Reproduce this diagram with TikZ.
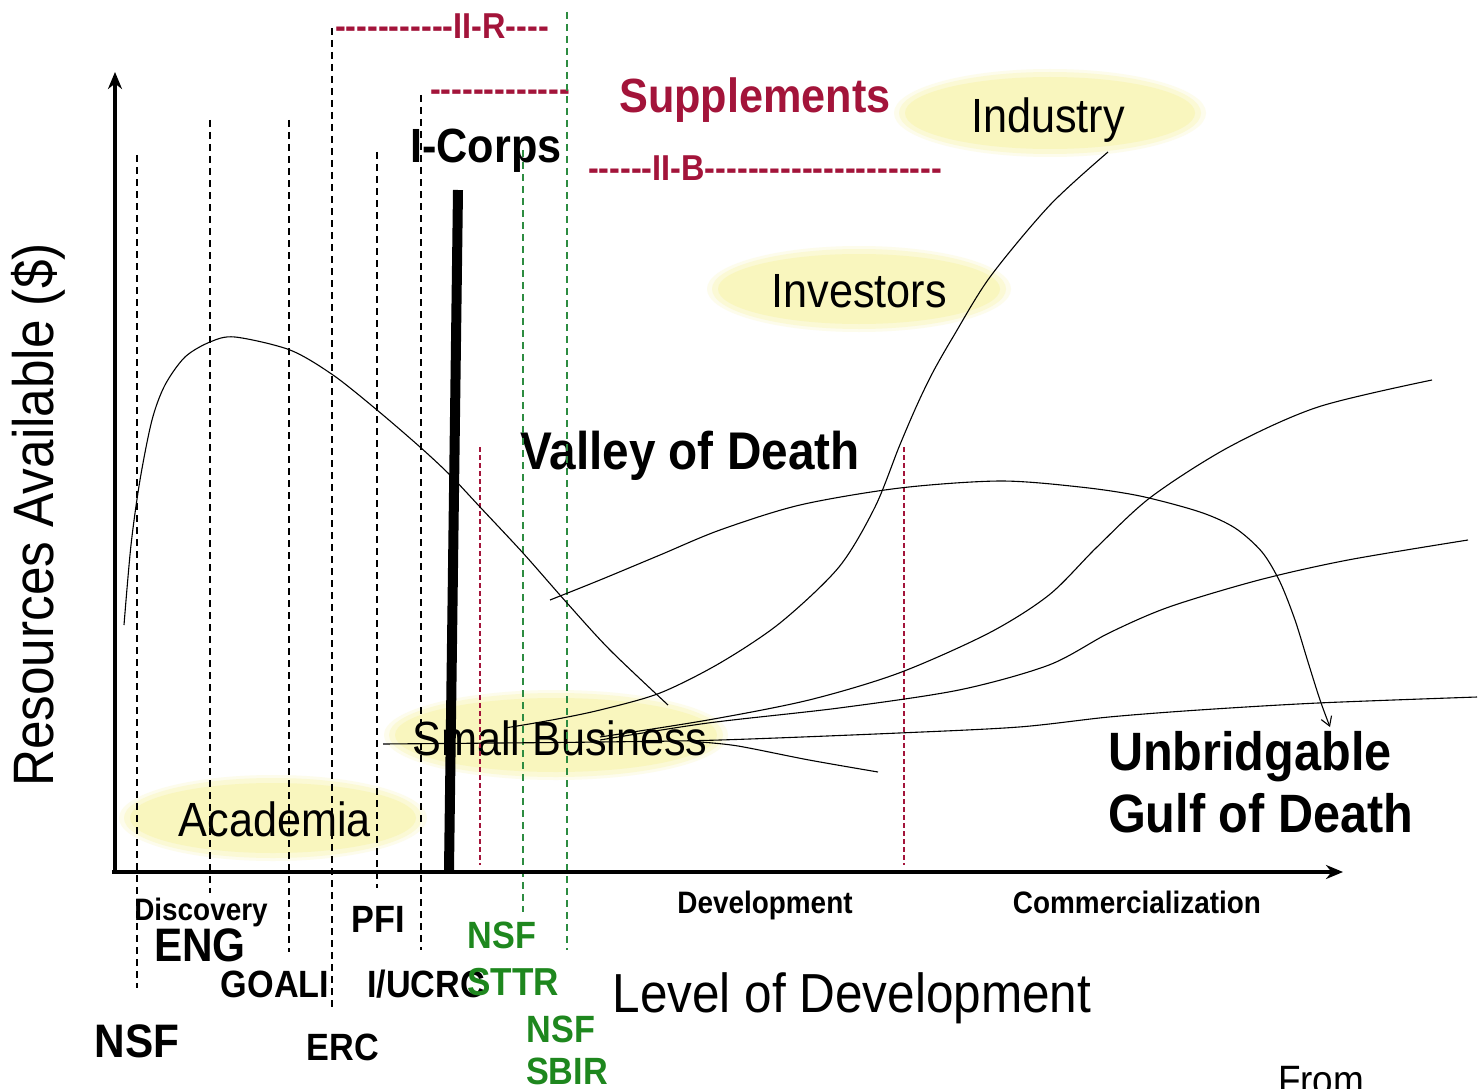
\documentclass[tikz,border=0pt]{standalone}
\usepackage{fontspec}
\setmainfont[FakeStretch=0.9]{Liberation Sans}
\usetikzlibrary{arrows.meta}
\definecolor{crimson}{RGB}{163,20,58}
\definecolor{fundgreen}{RGB}{30,135,30}
\definecolor{guidegreen}{RGB}{45,140,65}
\definecolor{glow}{RGB}{249,246,190}
\newcommand\fsz[1]{\fontsize{#1}{#1}\selectfont}
% a run of separate hyphens (no dash ligatures)
\newcommand\hyphens[1]{\foreach\k in {1,...,#1}{-}}

\begin{document}
\begin{tikzpicture}[x=1pt,y=-1pt,
  every node/.style={inner sep=0pt, outer sep=0pt},
  lbl/.style={anchor=base, font=\fsz{48}},
  bold/.style={anchor=base, font=\fsz{#1}\bfseries},
  guide/.style={line width=1.3pt, dash pattern=on 7pt off 5pt},
  greenguide/.style={guide, guidegreen, line width=1.1pt},
  redguide/.style={line width=1.1pt, crimson, dash pattern=on 5pt off 3pt},
  curve/.style={line width=1.1pt, black},
  axis/.style={line width=4pt, -{Stealth[length=17pt,width=14pt]}},
]
\fill[white] (0,0) rectangle (1478,1089);
\useasboundingbox (0,0) rectangle (1478,1089);

% soft yellow clouds behind the sector labels
\foreach \cx/\cy/\rx/\ry in {1050/113/150/40, 859/289/146/39, 556/735/166/41, 273/818/148/39}{
  \fill[glow!30] (\cx,\cy) ellipse [x radius=\rx pt+6pt, y radius=\ry pt+4pt];
  \fill[glow!65] (\cx,\cy) ellipse [x radius=\rx pt+1pt, y radius=\ry pt+1pt];
  \fill[glow] (\cx,\cy) ellipse [x radius=\rx pt-5pt, y radius=\ry pt-4pt];
}

% sector labels
\node[lbl] (industry) at (1048,133) {Industry};
\node[lbl] (investors) at (859,307) {Investors};
\node[lbl] (smallbiz) at (560,755) {Small Business};
\node[lbl] (academia) at (275,836) {Academia};

% headings
\node[bold=48, crimson] (supp) at (755,113) {Supplements};
\node[bold=36, crimson, anchor=base west] (iir) at (335,39) {\hyphens{11}II-R\hyphens{4}};
\node[bold=36, crimson, anchor=base west] (suppbar) at (430,102) {\hyphens{13}};
\node[bold=36, crimson, anchor=base west] (iib) at (588,180) {\hyphens{6}II-B\hyphens{22}};
\node[bold=48] (icorps) at (486,162) {I-Corps};
\node[bold=53] (valley) at (690,469) {Valley of Death};
\node[bold=54, anchor=base west] (unbr) at (1108,770) {Unbridgable};
\node[bold=54, anchor=base west] (gulf) at (1108,832) {Gulf of Death};

% axis titles
\node[font=\fsz{57}, rotate=90] (ylab) at (38,515) {Resources Available (\$)};
\node[font=\fsz{55}, anchor=base] (xlab) at (852,1012) {Level of Development};

% stage and programme labels
\node[bold=31] (disc) at (201,920) {Discovery};
\node[bold=31] (devel) at (765,913) {Development};
\node[bold=31] (comm) at (1137,913) {Commercialization};
\node[bold=47] (eng) at (200,961) {ENG};
\node[bold=38] (goali) at (275,997) {GOALI};
\node[bold=38] (pfi) at (378,932) {PFI};
\node[bold=38] (iucrc) at (426,997) {I/UCRC};
\node[bold=47] (nsf) at (137,1057) {NSF};
\node[bold=38] (erc) at (343,1060) {ERC};
\node[bold=38, fundgreen] (nsfa) at (502,948) {NSF};
\node[bold=39, fundgreen] (sttr) at (513,995) {STTR};
\node[bold=38, fundgreen] (nsfb) at (561,1042) {NSF};
\node[bold=38, fundgreen] (sbir) at (567,1084) {SBIR};
\node[font=\fsz{41}, anchor=base west] (from) at (1278,1094) {From};

% programme boundaries
\foreach \gx/\gtop/\gbot in {137/155/988, 210/120/893, 289/120/952, 332/28/1010, 377/152/888, 421/95/950}{
  \draw[guide] (\gx,\gtop) -- (\gx,\gbot);
}
\draw[greenguide] (523,150) -- (523,912);
\draw[greenguide] (567,12) -- (567,950);
\draw[redguide] (480,447) -- (480,865);
\draw[redguide] (904,447) -- (904,865);

% resource curves
\draw[curve] plot[smooth] coordinates {(124,625) (131,545) (140,480) (152,420) (165,385) (185,357) (210,342) (235,337) (290,350) (333,375) (377,410) (420,447) (450,475) (480,507) (523,553) (567,603) (610,650) (668,705)};
\draw[curve, -{Straight Barb[length=9pt,width=11pt]}] plot[smooth] coordinates {(550,600) (600,580) (660,555) (720,530) (800,505) (900,488) (1000,481) (1080,487) (1140,496) (1200,512) (1235,528) (1262,552) (1280,582) (1295,620) (1308,662) (1320,700) (1330,727)};
\draw[curve] plot[smooth] coordinates {(505,728) (552,720) (600,710) (660,693) (720,663) (780,623) (839,567) (875,507) (899,447) (917,405) (933,372) (953,337) (990,277) (1050,205) (1108,152)};
\draw[curve] plot[smooth] coordinates {(600,737) (708,720) (809,700) (899,673) (989,633) (1049,595) (1097,547) (1151,497) (1229,447) (1318,407) (1432,380)};
\draw[curve] plot[smooth] coordinates {(600,740) (708,723) (839,708) (959,690) (1049,665) (1109,633) (1169,607) (1259,580) (1348,560) (1468,540)};
\draw[curve] plot[smooth] coordinates {(383,744) (500,743) (600,742) (720,740) (899,733) (1019,727) (1109,717) (1199,710) (1318,703) (1477,697)};
\draw[curve] plot[smooth] coordinates {(700,742) (738,746) (809,760) (878,772)};

% I-Corps bar
\coordinate (bartop) at (458,190);
\coordinate (barbot) at (449,870);
\draw[line width=10pt] (bartop) -- (barbot);

% axes
\coordinate (origin) at (115,872);
\coordinate (ytop) at (115,72);
\coordinate (xend) at (1343,872);
\draw[axis] ([yshift=2pt]origin) -- (ytop);
\draw[axis] ([xshift=-3pt]origin) -- (xend);
\end{tikzpicture}
\end{document}
